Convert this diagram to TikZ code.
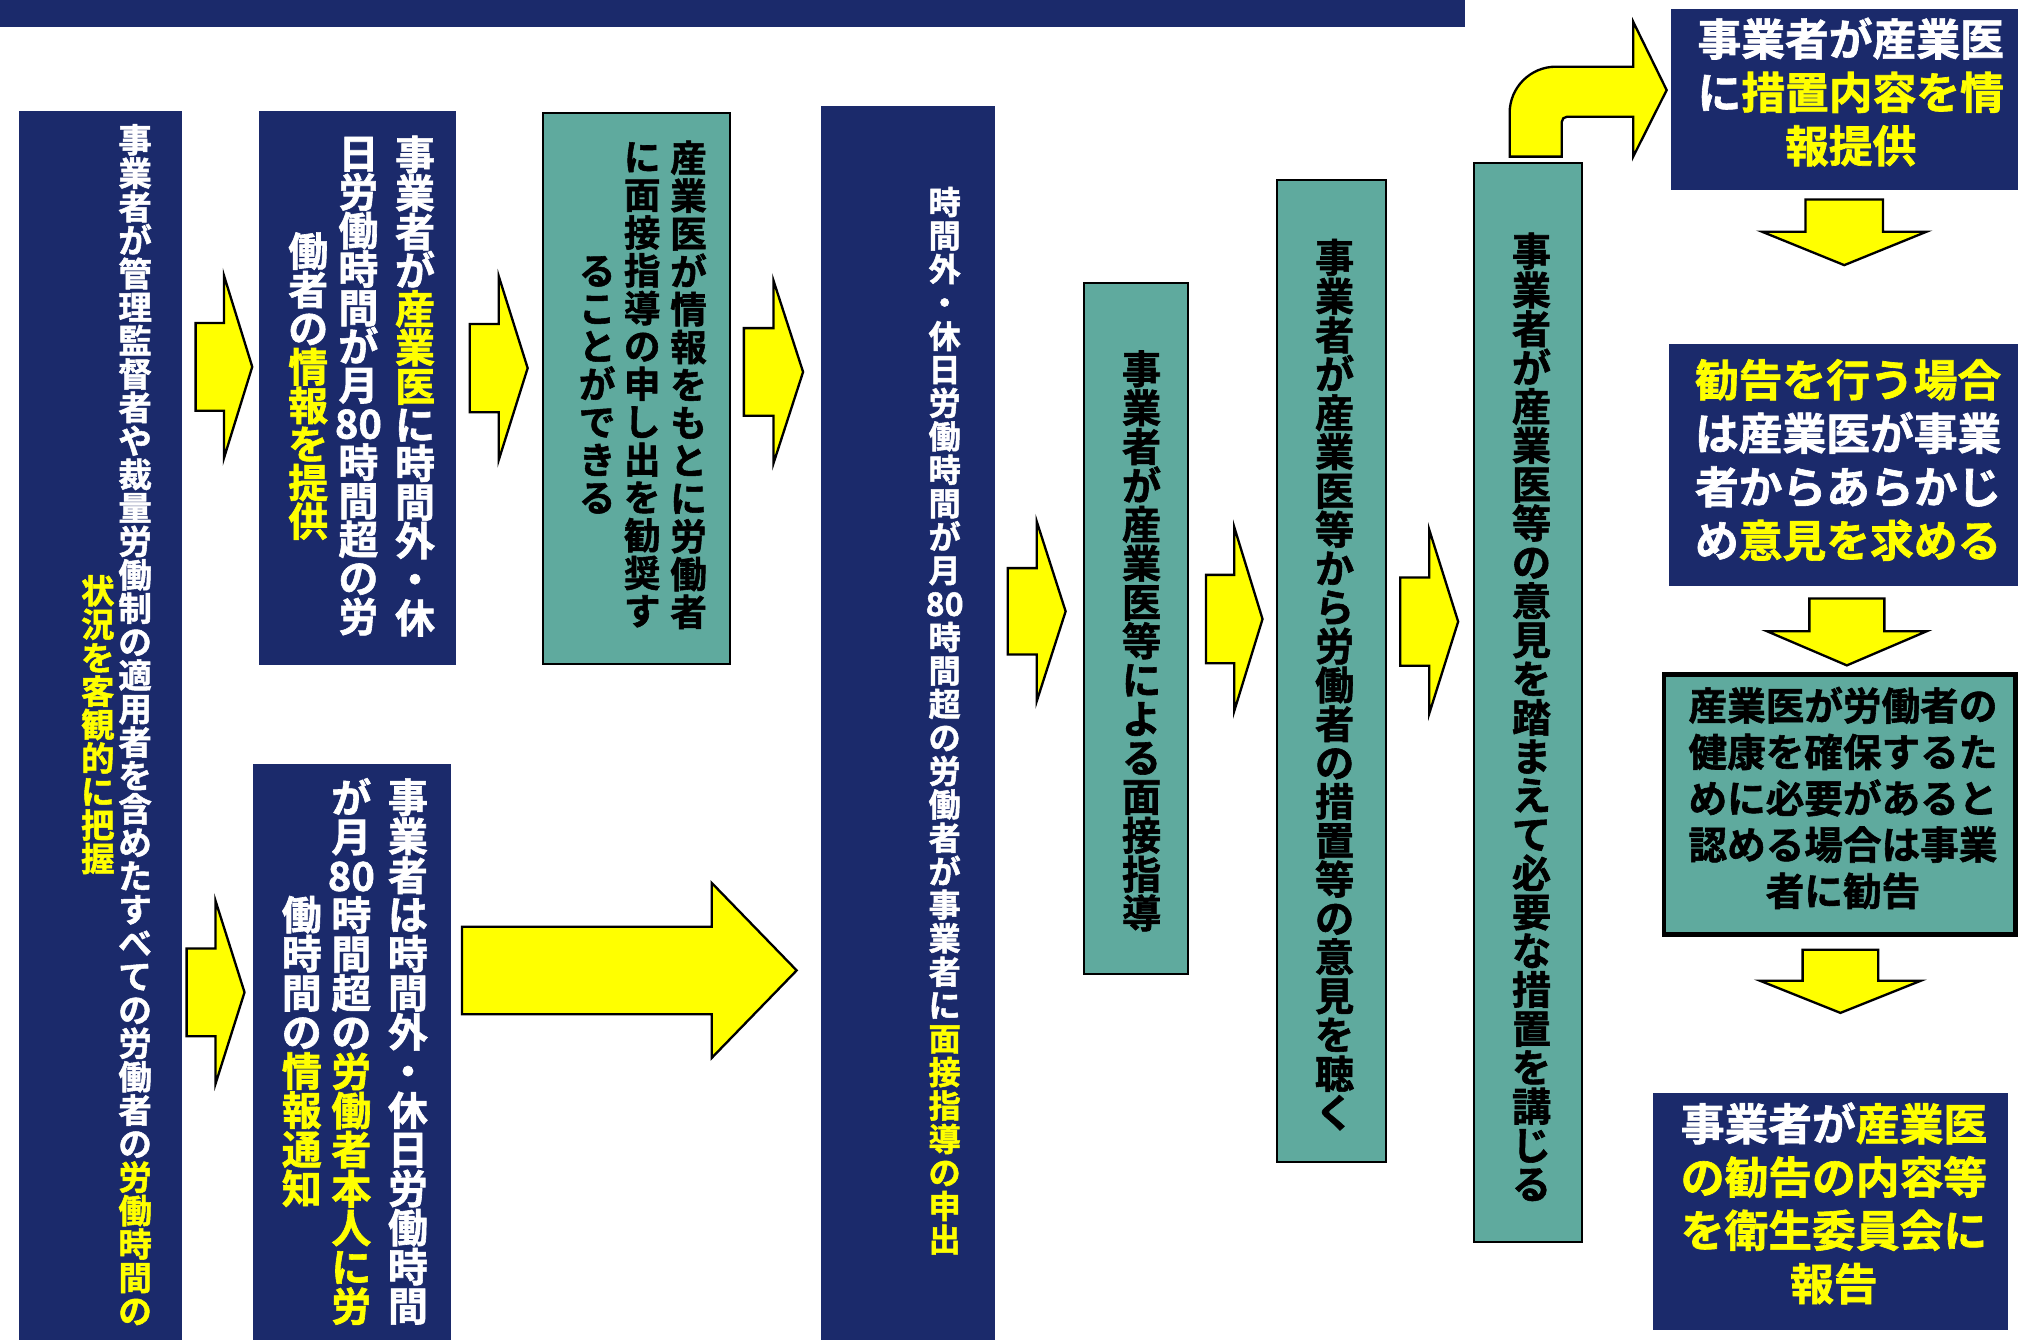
\documentclass[tikz,border=0pt]{standalone}
\usepackage{fontspec}
\setmainfont{Noto Sans CJK JP}[BoldFont={Noto Sans CJK JP Bold},BoldFeatures={FakeBold=1.5}]
\definecolor{navyb}{HTML}{1B2A6B}
\definecolor{tealb}{HTML}{5FAA9E}
\definecolor{ylw}{HTML}{FFFF00}
\makeatletter
\def\vY{\color{ylw}}
\def\vW{\color{white}}
\def\vE{80}
\def\vt@stop{\vt@stop}
\newcommand\vtext[1]{\vt@#1\vt@stop}
\def\vt@#1{\ifx#1\vt@stop\else\ifx#1\vY\vY\else\ifx#1\vW\vW\else\hbox to 1em{\hss#1\hss}\fi\fi\expandafter\vt@\fi}
\newcommand\vcol[3]{{\fontsize{#1pt}{#2pt}\selectfont\vbox{\baselineskip=#2pt\lineskiplimit=-100pt\lineskip=0pt\relax\vtext{#3}}}}
\makeatother
\newcommand\rarr[6]{% x1 xm x2 yc h bodyfrac
  \pgfmathsetmacro\bt{#4-#6*#5}\pgfmathsetmacro\bb{#4+#6*#5}%
  \pgfmathsetmacro\hT{#4-0.5*#5}\pgfmathsetmacro\hB{#4+0.5*#5}%
  \draw[blockarrow] (#1,\bt) -- (#2,\bt) -- (#2,\hT) -- (#3,#4) -- (#2,\hB) -- (#2,\bb) -- (#1,\bb) -- cycle;}
\newcommand\darr[4]{% xc y1 y2 w
  \pgfmathsetmacro\bl{#1-0.235*#4}\pgfmathsetmacro\br{#1+0.235*#4}%
  \pgfmathsetmacro\hl{#1-0.5*#4}\pgfmathsetmacro\hr{#1+0.5*#4}%
  \pgfmathsetmacro\ym{#2+0.49*(#3-#2)}%
  \draw[blockarrow] (\bl,#2) -- (\br,#2) -- (\br,\ym) -- (\hr,\ym) -- (#1,#3) -- (\hl,\ym) -- (\bl,\ym) -- cycle;}
\begin{document}
\begin{tikzpicture}[x=0.5pt,y=-0.5pt,
  navybox/.style={fill=navyb,draw=navyb},
  tealbox/.style={fill=tealb,draw=black,line width=0.8pt},
  blockarrow/.style={fill=ylw,draw=black,line width=0.9pt,line join=miter},
  vt/.style={inner sep=0pt,anchor=center,font=\bfseries},
  ht/.style={inner sep=0pt,anchor=center,align=center}]
\useasboundingbox (0,0) rectangle (1568,1041);
\fill[white] (0,0) rectangle (1568,1041);
% top bar
\fill[navyb] (0,0) rectangle (1138,21);
% boxes
\draw[navybox] (15,87) rectangle (141,1041);
\draw[navybox] (202,87) rectangle (354,516);
\draw[tealbox] (422,88) rectangle (567,516);
\draw[navybox] (638,83) rectangle (773,1041);
\draw[navybox] (197,594) rectangle (350,1041);
\draw[tealbox] (842,220) rectangle (923,757);
\draw[tealbox] (992,140) rectangle (1077,903);
\draw[tealbox] (1145,127) rectangle (1229,965);
\draw[navybox] (1299,7) rectangle (1568,147);
\draw[navybox] (1297,268) rectangle (1568,455);
\draw[fill=tealb,draw=black,line width=1.8pt] (1293,524) rectangle (1566,726);
\draw[navybox] (1285,850) rectangle (1560,1033);
% box A text
\node[vt,text=white] (a1) at (105,563) {\vcol{13}{13}{事業者が管理監督者や裁量労働制の適用者を含めたすべての労働者の\vY 労働時間の}};
\node[vt,text=white] (a2) at (76,563) {\vcol{13}{13}{\vY 状況を客観的に把握}};
% box B
\node[vt,text=white] (b1) at (322.5,300) {\vcol{15.5}{15}{事業者が\vY 産業医\vW に時間外・休}};
\node[vt,text=white] (b2) at (278.5,300) {\vcol{15.5}{15}{日労働時間が月\vE 時間超の労}};
\node[vt,text=white] (b3) at (239.5,300) {\vcol{15.5}{15}{働者の\vY 情報を提供}};
% box C
\node[vt,text=black] (c1) at (535,299) {\vcol{14.2}{14.7}{産業医が情報をもとに労働者}};
\node[vt,text=black] (c2) at (499,299) {\vcol{14.2}{14.7}{に面接指導の申し出を勧奨す}};
\node[vt,text=black] (c3) at (464,299) {\vcol{14.2}{14.7}{ることができる}};
% box D
\node[vt,text=white] (d1) at (734,560) {\vcol{12.5}{13}{時間外・休日労働時間が月\vE 時間超の労働者が事業者に\vY 面接指導の申出}};
% box E
\node[vt,text=white] (e1) at (317,817) {\vcol{15.5}{15.2}{事業者は時間外・休日労働時間}};
\node[vt,text=white] (e2) at (273,817) {\vcol{15.5}{15.2}{が月\vE 時間超の\vY 労働者本人に労}};
\node[vt,text=white] (e3) at (234.5,817) {\vcol{15.5}{15.2}{働時間の\vY 情報通知}};
% boxes F G H
\node[vt,text=black] (f1) at (887,498) {\vcol{15.2}{15.1}{事業者が産業医等による面接指導}};
\node[vt,text=black] (g1) at (1037,532) {\vcol{15.2}{15.1}{事業者が産業医等から労働者の措置等の意見を聴く}};
\node[vt,text=black] (h1) at (1190,557) {\vcol{15.2}{15.1}{事業者が産業医等の意見を踏まえて必要な措置を講じる}};
% right boxes
\node[ht,text=white,font=\fontsize{17pt}{20.75pt}\selectfont\bfseries] (i1) at (1438,71.5) {事業者が産業医\\に\textcolor{ylw}{措置内容を情}\\\textcolor{ylw}{報提供}};
\node[ht,text=white,font=\fontsize{17pt}{20.8pt}\selectfont\bfseries] (j1) at (1436,357.5) {\textcolor{ylw}{勧告を行う場合}\\は産業医が事業\\者からあらかじ\\め\textcolor{ylw}{意見を求める}};
\node[ht,text=black,font=\fontsize{15pt}{18pt}\selectfont\bfseries] (k1) at (1432,620) {産業医が労働者の\\健康を確保するた\\めに必要があると\\認める場合は事業\\者に勧告};
\node[ht,text=white,font=\fontsize{17pt}{20.7pt}\selectfont\bfseries] (l1) at (1425,935) {事業者が\textcolor{ylw}{産業医}\\\textcolor{ylw}{の勧告の内容等}\\\textcolor{ylw}{を衛生委員会に}\\\textcolor{ylw}{報告}};
% right arrows
\rarr{152}{174}{196}{285}{142}{0.24}
\rarr{145}{167.5}{190}{771}{142}{0.24}
\rarr{365}{387.5}{410}{286}{143}{0.24}
\rarr{578}{601}{624}{289}{142}{0.24}
\rarr{783}{805.5}{828}{475}{140}{0.24}
\rarr{937}{959}{981}{481}{143}{0.24}
\rarr{1088}{1110.5}{1133}{483}{143}{0.24}
\rarr{359}{553}{619}{754}{136}{0.25}
% down arrows
\darr{1433}{155}{206}{128}
\darr{1435}{465}{517}{124}
\darr{1430}{738}{787}{125}
% bent arrow
\draw[blockarrow] (1173,121.7) -- (1173,87.8) .. controls (1173,67.9) and (1189.1,51.8) .. (1209,51.8) -- (1269,51.8) -- (1269,16.9) -- (1295,70) -- (1269,121.7) -- (1269,90.7) -- (1217.5,90.7) .. controls (1215.3,90.7) and (1213.5,92.5) .. (1213.5,94.7) -- (1213.5,121.7) -- cycle;
\end{tikzpicture}
\end{document}
